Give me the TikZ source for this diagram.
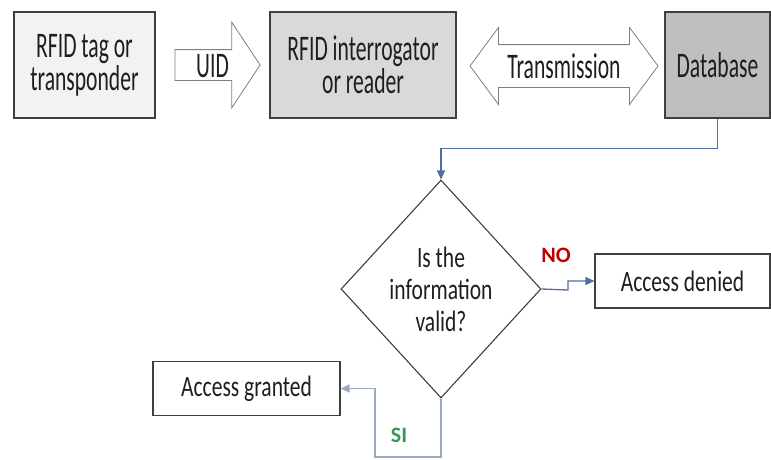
\documentclass[tikz,border=0pt]{standalone}
\usepackage{fontspec}
\setmainfont{Carlito}
\newfontfamily\tallfont{Carlito}[FakeStretch=0.6]
\newfontfamily\midfont{Carlito}[FakeStretch=0.73]
\usetikzlibrary{shapes.geometric,shapes.arrows,arrows.meta}
\definecolor{boxline}{HTML}{3F3F3F}
\definecolor{arrline}{HTML}{808080}
\definecolor{ink}{HTML}{1E1E1E}
\definecolor{tagfill}{HTML}{F2F2F2}
\definecolor{readerfill}{HTML}{D9D9D9}
\definecolor{dbfill}{HTML}{BFBFBF}
\definecolor{flowblue}{HTML}{4F6F9F}
\definecolor{siblue}{HTML}{9AAAC2}
\definecolor{nored}{HTML}{C00000}
\definecolor{sigreen}{HTML}{3C965A}
\begin{document}
\begin{tikzpicture}[x=1pt,y=-1pt,
				block/.style={rectangle,draw=boxline,line width=1.1pt,text=ink,align=center,
					inner sep=0pt,font={\tallfont\fontsize{36}{33}\selectfont}},
				result/.style={rectangle,draw=boxline,line width=1.1pt,text=ink,inner sep=0pt,
					minimum height=54pt,font={\midfont\fontsize{29.5}{32}\selectfont}},
				bigarrow/.style={draw=arrline,line width=0.8pt,fill=white,text=ink,
					text height=24pt,text depth=0pt,font={\tallfont\fontsize{36}{33}\selectfont}},
				flow/.style={draw=flowblue,line width=1.3pt,-{Triangle[length=9pt,width=8pt]}},
				answer/.style={font={\bfseries\fontsize{22}{24}\selectfont}}]
\useasboundingbox (0,0) rectangle (771,459);
% top row
\node[block,fill=tagfill,minimum width=141pt,minimum height=106pt] (tag) at (84.5,65)
	{RFID tag or\\transponder};
\node[block,fill=readerfill,minimum width=186pt,minimum height=106pt] (reader) at (363,65)
	{RFID interrogator\\or reader};
\node[block,fill=dbfill,minimum width=105pt,minimum height=106pt] (db) at (717.5,65)
	{Database};
\node[bigarrow,single arrow,single arrow head extend=27.5pt,single arrow tip angle=113,
	minimum height=85pt,inner ysep=3pt,inner xsep=12pt] (uid) at (212.5,65) {UID};
\node[bigarrow,double arrow,double arrow head extend=17pt,double arrow tip angle=107,
	minimum height=188pt,inner ysep=9pt] (trans) at (564,66) {Transmission};
% decision
\node[diamond,draw=boxline,line width=1.1pt,text=ink,align=center,inner sep=0pt,
	aspect=0.917,minimum width=200pt,minimum height=218pt,
	font={\midfont\fontsize{29.5}{32}\selectfont}] (check) at (441,289)
	{Is the\\information\\valid?};
\node[result,minimum width=175pt] (denied) at (682.5,281) {Access denied};
\node[result,minimum width=187pt] (granted) at (246.5,388.5) {Access granted};
\node[answer,text=nored] (no) at (556,255) {NO};
\node[answer,text=sigreen] (si) at (399,435.5) {SI};
% connectors
\coordinate (nostep) at (568,290);
\coordinate (sicorner) at (375,457);
\draw[flow] (db.south) -- ++(0,30) -| (check.north);
\draw[flow] (check.east) -- (nostep) |- (denied.west);
\draw[flow,draw=siblue] (check.south) |- (sicorner) |- (granted.east);
\end{tikzpicture}
\end{document}
